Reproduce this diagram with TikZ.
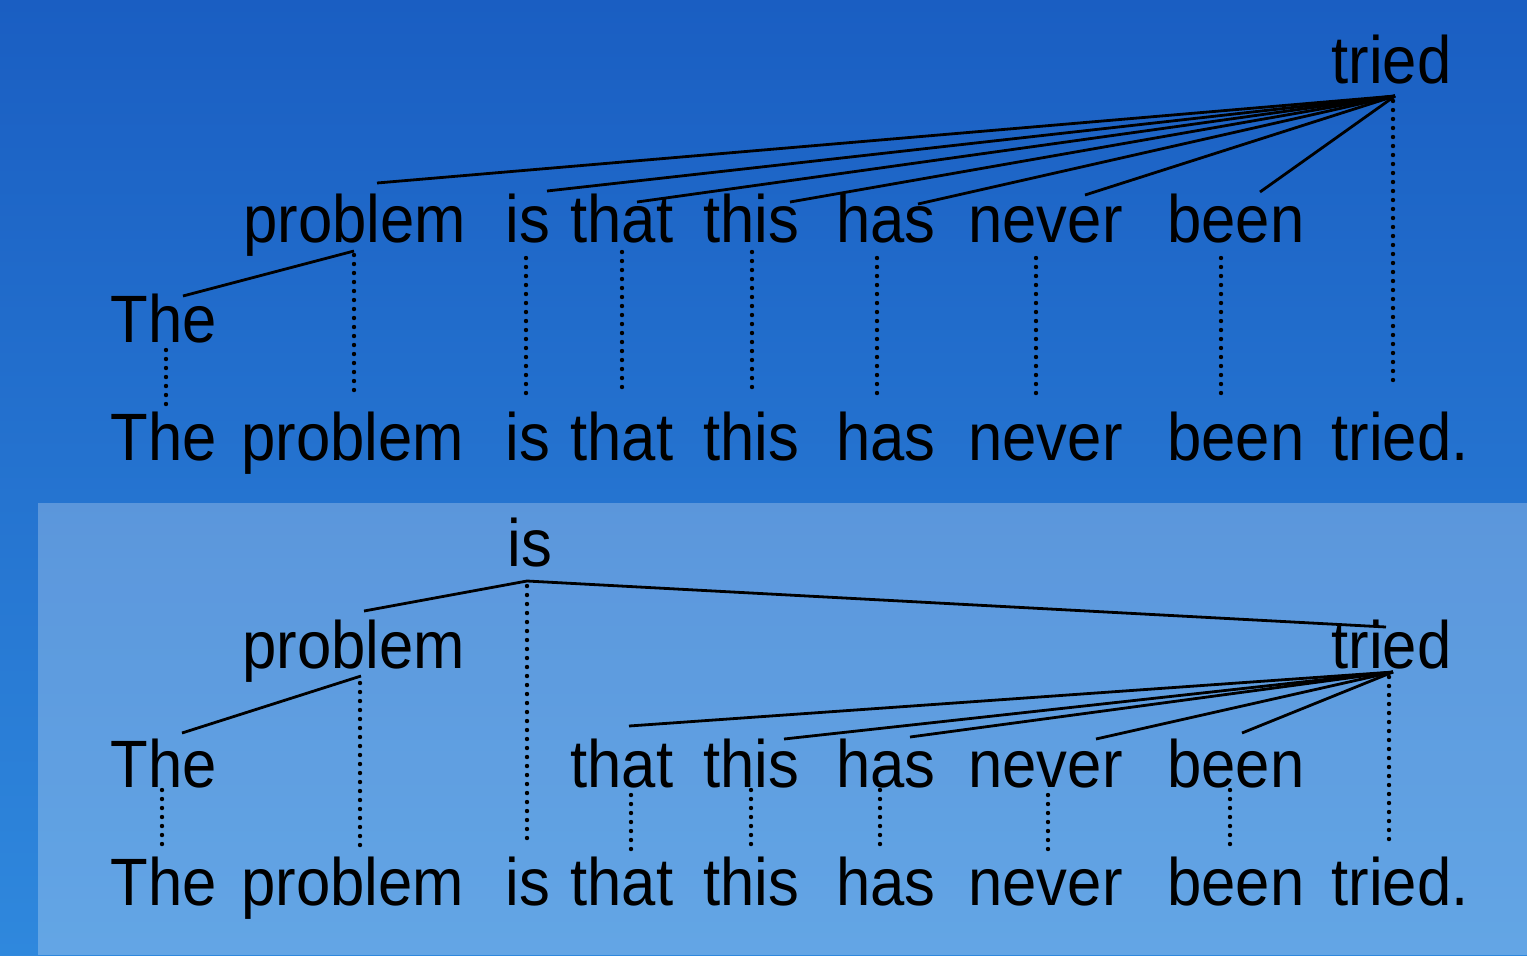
\documentclass[tikz,border=0pt]{standalone}
\usepackage{fontspec}
\newfontfamily\wfont[FakeStretch=0.92]{Liberation Sans}
\usetikzlibrary{calc}
\definecolor{bgtop}{HTML}{1A5EC2}
\definecolor{bgbot}{HTML}{2F88DD}
\tikzset{
  word/.style={anchor=base west, inner sep=0pt, font=\wfont\fontsize{33.5}{40}\selectfont, text=black},
  tie/.style={draw=black, line width=1.4pt},
  dots/.style={draw=black, line width=2.2pt, line cap=round, dash pattern=on 0pt off 4.5pt},
}
\begin{document}
\begin{tikzpicture}[x=0.5pt,y=-0.5pt]
\useasboundingbox (0,0) rectangle (1527,955);
\shade[top color=bgtop, bottom color=bgbot] (0,0) rectangle (1527,955);
\fill[white, opacity=0.25] (38,503) rectangle (1527,955);

% ---------- upper tree ----------
\node[word] (tTried) at (1331,83) {tried};
\node[word] (tProblem) at (243,242) {problem};
\node[word] (tIs) at (505,242) {is};
\node[word] (tThat) at (570,242) {that};
\node[word] (tThis) at (703,242) {this};
\node[word] (tHas) at (836,242) {has};
\node[word] (tNever) at (968,242) {never};
\node[word] (tBeen) at (1167,242) {been};
\node[word] (tThe) at (110,342) {The};

\node[word] (sThe) at (110,460) {The};
\node[word] (sProblem) at (241,460) {problem};
\node[word] (sIs) at (505,460) {is};
\node[word] (sThat) at (570,460) {that};
\node[word] (sThis) at (703,460) {this};
\node[word] (sHas) at (836,460) {has};
\node[word] (sNever) at (968,460) {never};
\node[word] (sBeen) at (1167,460) {been};
\node[word] (sTried) at (1331,460) {tried.};

\coordinate (aTried) at (1395,96);
\coordinate (aProblemU) at (377,183);
\coordinate (aIsU) at (547,191);
\coordinate (aThatU) at (637,202);
\coordinate (aThisU) at (790,202);
\coordinate (aHasU) at (918,204);
\coordinate (aNeverU) at (1085,195);
\coordinate (aBeenU) at (1260,192);
\coordinate (aProblemD) at (354,251);
\coordinate (aTheU) at (183,296);

\foreach \c in {aProblemU,aIsU,aThatU,aThisU,aHasU,aNeverU,aBeenU}
  \draw[tie] (aTried) -- (\c);
\draw[tie] (aProblemD) -- (aTheU);

\coordinate (dTheA) at (166,350);   \coordinate (dTheB) at (166,412);
\coordinate (dProA) at (354,255);   \coordinate (dProB) at (354,397);
\coordinate (dIsA) at (526,258);    \coordinate (dIsB) at (526,400);
\coordinate (dThatA) at (622,252);  \coordinate (dThatB) at (622,395);
\coordinate (dThisA) at (752,252);  \coordinate (dThisB) at (752,395);
\coordinate (dHasA) at (877,258);   \coordinate (dHasB) at (877,400);
\coordinate (dNevA) at (1036,258);  \coordinate (dNevB) at (1036,400);
\coordinate (dBeenA) at (1221,258); \coordinate (dBeenB) at (1221,400);
\coordinate (dTriA) at (1393,101);  \coordinate (dTriB) at (1393,385);
\foreach \p in {dThe,dPro,dIs,dThat,dThis,dHas,dNev,dBeen,dTri}
  \draw[dots] (\p A) -- (\p B);

% ---------- lower tree ----------
\node[word] (lIs) at (507,566) {is};
\node[word] (lProblem) at (242,668) {problem};
\node[word] (lTried) at (1331,668) {tried};
\node[word] (lThe) at (110,787) {The};
\node[word] (lThat) at (570,787) {that};
\node[word] (lThis) at (703,787) {this};
\node[word] (lHas) at (836,787) {has};
\node[word] (lNever) at (968,787) {never};
\node[word] (lBeen) at (1167,787) {been};

\node[word] (mThe) at (110,905) {The};
\node[word] (mProblem) at (241,905) {problem};
\node[word] (mIs) at (505,905) {is};
\node[word] (mThat) at (570,905) {that};
\node[word] (mThis) at (703,905) {this};
\node[word] (mHas) at (836,905) {has};
\node[word] (mNever) at (968,905) {never};
\node[word] (mBeen) at (1167,905) {been};
\node[word] (mTried) at (1331,905) {tried.};

\coordinate (bIs) at (527,581);
\coordinate (bProblemU) at (364,611);
\coordinate (bTriedU) at (1386,627);
\coordinate (bProblemD) at (361,676);
\coordinate (bTheU) at (182,733);
\coordinate (bTried) at (1393,672);
\coordinate (bThatU) at (629,726);
\coordinate (bThisU) at (784,739);
\coordinate (bHasU) at (910,737);
\coordinate (bNeverU) at (1096,739);
\coordinate (bBeenU) at (1242,733);

\draw[tie] (bIs) -- (bProblemU);
\draw[tie] (bIs) -- (bTriedU);
\draw[tie] (bProblemD) -- (bTheU);
\foreach \c in {bThatU,bThisU,bHasU,bNeverU,bBeenU}
  \draw[tie] (bTried) -- (\c);

\coordinate (eTheA) at (162,790);   \coordinate (eTheB) at (162,853);
\coordinate (eProA) at (360,683);   \coordinate (eProB) at (360,846);
\coordinate (eIsA) at (527,586);    \coordinate (eIsB) at (527,839);
\coordinate (eThatA) at (631,795);  \coordinate (eThatB) at (631,858);
\coordinate (eThisA) at (751,790);  \coordinate (eThisB) at (751,852);
\coordinate (eHasA) at (880,790);   \coordinate (eHasB) at (880,852);
\coordinate (eNevA) at (1048,795);  \coordinate (eNevB) at (1048,858);
\coordinate (eBeenA) at (1230,790); \coordinate (eBeenB) at (1230,851);
\coordinate (eTriA) at (1389,677);  \coordinate (eTriB) at (1389,846);
\foreach \p in {eThe,ePro,eIs,eThat,eThis,eHas,eNev,eBeen,eTri}
  \draw[dots] (\p A) -- (\p B);
\end{tikzpicture}
\end{document}
